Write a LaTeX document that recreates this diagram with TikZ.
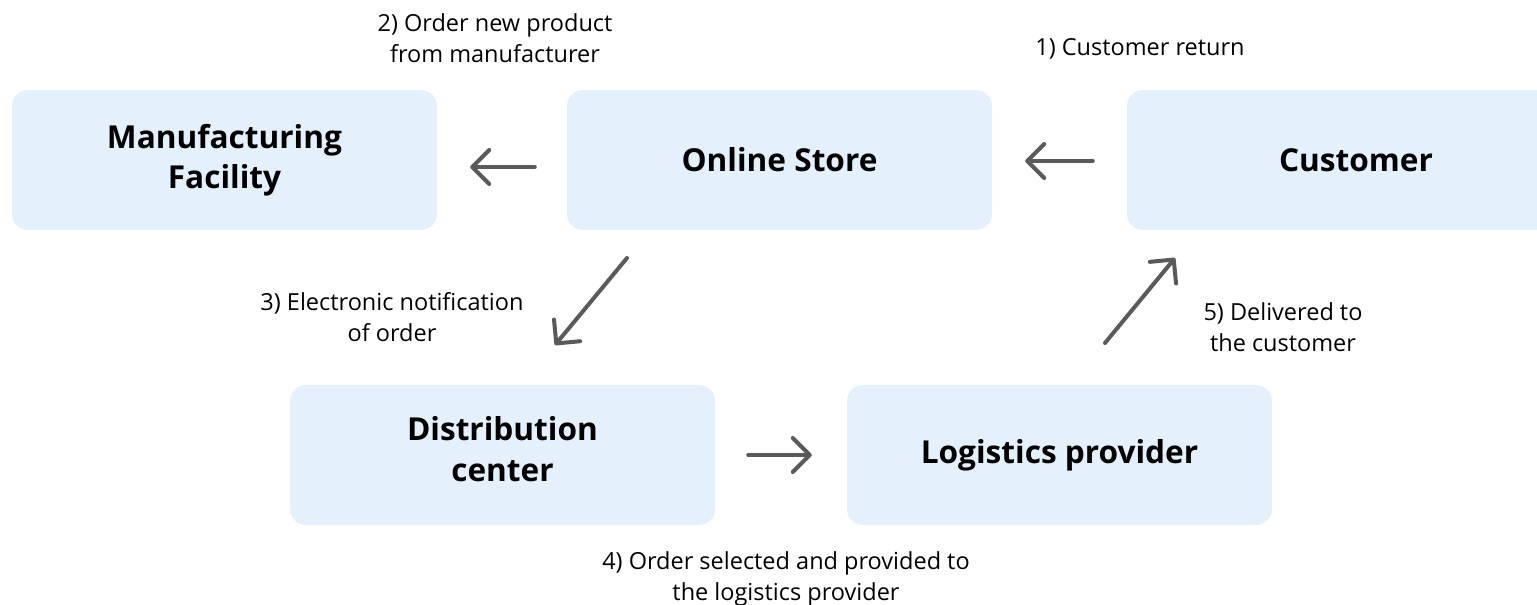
\documentclass[tikz,border=0pt]{standalone}
\usepackage{fontspec}
\setmainfont{Open Sans}
\usetikzlibrary{arrows.meta}
\definecolor{boxfill}{HTML}{E4F1FD}
\definecolor{arrgray}{HTML}{5A5A5A}
\begin{document}
\begin{tikzpicture}[x=1pt,y=-1pt,
  box/.style={fill=boxfill, rounded corners=16pt, minimum width=425pt, minimum height=140pt, align=center, font=\fontsize{31.6}{40.5}\selectfont\bfseries, inner sep=0pt},
  boxtext/.style={align=center, font=\fontsize{31.6}{40.5}\selectfont\bfseries, inner sep=0pt},
  lbl/.style={align=center, font=\fontsize{23.5}{31}\selectfont, inner sep=0pt},
  arr/.style={draw=arrgray, line width=4pt, line cap=round, line join=round, -{Straight Barb[length=17pt,width=34pt,line cap=round,line join=round]}}
]
\useasboundingbox (0,0) rectangle (1537,605);
\clip (0,0) rectangle (1537,605);
\node[box] (mf) at (224.5,160) {Manufacturing\\Facility};
\node[box] (os) at (779.5,160) {Online Store};
\node[box, minimum width=458pt] (cu) at (1356,160) {Customer};
\node[box] (dc) at (502.5,455) {};
\node[boxtext] (dct) at ([yshift=6pt]dc.center) {Distribution\\center};
\node[box] (lp) at (1059.5,455) {Logistics provider};

\node[lbl] (l2) at (495,38) {2) Order new product\\from manufacturer};
\node[lbl] (l1) at (1140,49) {1) Customer return};
\node[lbl] (l3) at (392,317) {3) Electronic notification\\of order};
\node[lbl] (l5) at (1283,327) {5) Delivered to\\the customer};
\node[lbl] (l4) at (786,579) {4) Order selected and provided to\\the logistics provider};

\coordinate (a3s) at (627,258);
\coordinate (a3e) at (555,345);
\coordinate (a5s) at (1105,343);
\coordinate (a5e) at (1175,258);

\draw[arr] ([xshift=-32pt,yshift=-7pt]os.west) -- ([xshift=33pt,yshift=-7pt]mf.east);
\draw[arr] ([xshift=-34pt,yshift=-1pt]cu.west) -- ([xshift=33pt,yshift=-1pt]os.east);
\draw[arr] (a3s) -- (a3e);
\draw[arr] (a5s) -- (a5e);
\draw[arr] ([xshift=33pt]dc.east) -- ([xshift=-35pt]lp.west);
\end{tikzpicture}
\end{document}
